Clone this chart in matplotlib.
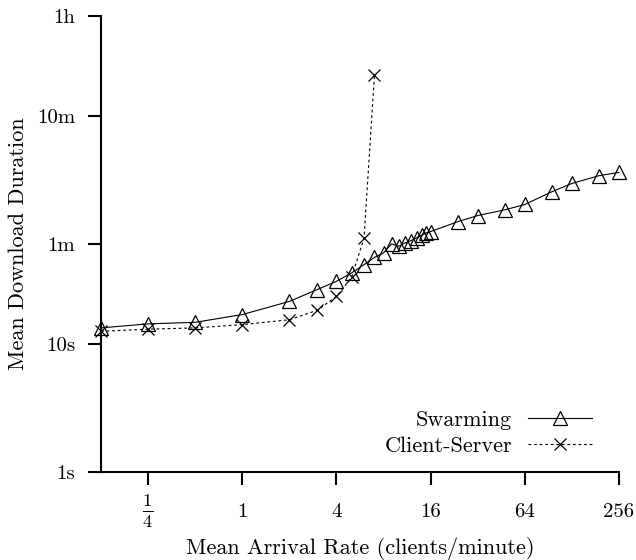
import matplotlib
matplotlib.use('Agg')
import matplotlib.pyplot as plt

plt.rcParams['font.family'] = 'cmr10'
plt.rcParams['mathtext.fontset'] = 'cm'
plt.rcParams['axes.formatter.use_mathtext'] = True

# arrival rate (clients/minute) and mean download time (seconds)
rate_swarm = [1/8, 1/4, 1/2, 1, 2, 3, 4, 5, 6, 7, 8, 9, 10, 11, 12, 13, 14, 15, 16,
              24, 32, 48, 64, 96, 128, 192, 256]
dur_swarm = [13.3, 14.3, 14.7, 16.9, 21.4, 26.4, 30.7, 35.7, 41.4, 47.2, 51.1, 60.1,
             57.6, 61.2, 63.8, 66.9, 70.2, 73.3, 75.0, 89.8, 100, 111, 122, 154, 178,
             205, 217]

rate_cs = [1/8, 1/4, 1/2, 1, 2, 3, 4, 5, 6, 7]
dur_cs = [12.5, 13.0, 13.3, 14.1, 15.4, 18.2, 23.4, 33.0, 66.5, 1248]

xticks = [1/4, 1, 4, 16, 64, 256]
xlabels = [r'$\frac{1}{4}$', '1', '4', '16', '64', '256']
yticks = [1, 10, 60, 600, 3600]
ylabels = ['1s', '10s', '1m', '10m', '1h']

fs_tick = 15
fs = 16

fig = plt.figure(figsize=(6.36, 5.6), dpi=100)
ax = fig.add_axes([101/636, 88/560, 518/636, 456/560])

ax.plot(rate_swarm, dur_swarm, color='black', lw=0.8, marker='^', ms=10,
        mfc='none', mec='black', mew=0.9, label='Swarming', clip_on=False)
ax.plot(rate_cs, dur_cs, color='black', lw=0.8, ls=(0, (2.5, 2.5)), marker='x',
        ms=9, mew=0.9, label='Client-Server', clip_on=False)

ax.set_xscale('log', base=2)
ax.set_yscale('log')
ax.set_xlim(1/8, 256)
ax.set_ylim(1, 3600)

ax.set_xticks(xticks)
ax.set_xticklabels(xlabels)
ax.set_yticks(yticks)
ax.set_yticklabels(ylabels)
ax.minorticks_off()

for side in ['top', 'right']:
    ax.spines[side].set_visible(False)
for side in ['left', 'bottom']:
    ax.spines[side].set_linewidth(1.5)

ax.tick_params(axis='both', direction='out', length=9.5, width=1.5, labelsize=fs_tick)
ax.tick_params(axis='x', pad=19)
ax.tick_params(axis='y', pad=9)
plt.setp(ax.get_xticklabels(), va='center')
ax.get_xticklabels()[0].set_fontsize(19)

ax.set_xlabel('Mean Arrival Rate (clients/minute)', fontsize=fs)
ax.set_ylabel('Mean Download Duration', fontsize=fs)
ax.xaxis.set_label_coords(0.5, -0.143)
ax.yaxis.set_label_coords(-0.14, 0.5)

ax.legend(loc='lower right', bbox_to_anchor=(0.948, 0.035), frameon=False,
          markerfirst=False, numpoints=1, fontsize=fs, borderpad=0,
          handlelength=2.9, handletextpad=0.7, labelspacing=0.3,
          borderaxespad=0)

fig.savefig('out.png', dpi=100)
